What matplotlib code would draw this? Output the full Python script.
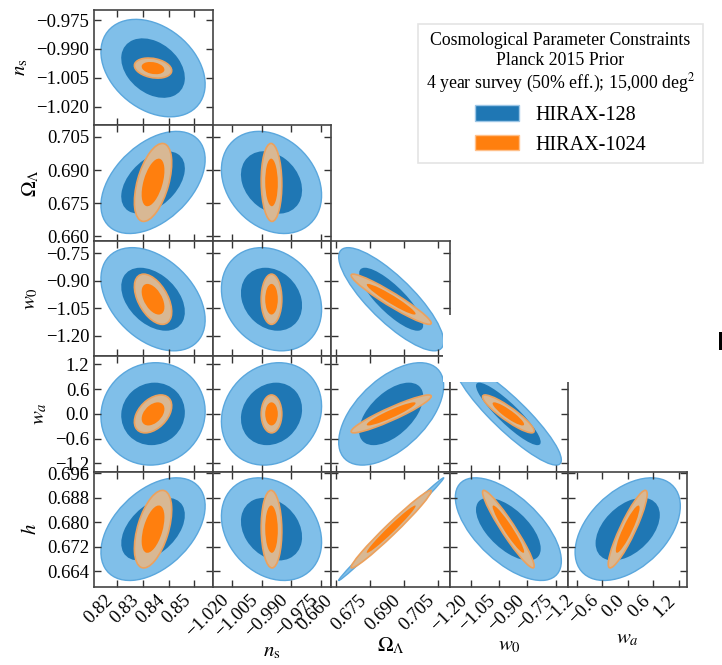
import numpy as np
import matplotlib
matplotlib.use('Agg')
import matplotlib.pyplot as plt
from matplotlib.patches import Ellipse, Patch, Rectangle
from matplotlib.ticker import FuncFormatter

plt.rcParams['font.family'] = 'serif'
plt.rcParams['font.serif'] = ['Liberation Serif', 'DejaVu Serif']
plt.rcParams['mathtext.fontset'] = 'stix'

# parametry: p0 (podpis ucięty na oryginale), n_s, Omega_L, w0, wa, h
labels = [None, r'$n_{\rm s}$', r'$\Omega_\Lambda$', r'$w_0$', r'$w_a$', r'$h$']
fiducial = [0.834, -1.0, 0.6844, -1.0, 0.0, 0.6778]
limits = [(0.8112, 0.8570), (-1.0298, -0.9698), (0.6580, 0.7102),
          (-1.310, -0.682), (-1.40, 1.40), (0.6589, 0.6966)]
ticks = [[0.82, 0.83, 0.84, 0.85],
         [-1.020, -1.005, -0.990, -0.975],
         [0.660, 0.675, 0.690, 0.705],
         [-1.20, -1.05, -0.90, -0.75],
         [-1.2, -0.6, 0.0, 0.6, 1.2],
         [0.664, 0.672, 0.680, 0.688, 0.696]]
tick_fmt = ['%.2f', '%.3f', '%.3f', '%.2f', '%.1f', '%.3f']

# bledy 1 sigma
sig128 = [0.0081, 0.0102, 0.0093, 0.113, 0.50, 0.00675]
sig1024 = [0.0029, 0.0021, 0.0071, 0.055, 0.185, 0.0051]

# korelacje, dolny trojkat: wiersz = parametr 1..5, kolumna = parametr 0..4
rho128 = [
    [-0.33],
    [0.45, -0.25],
    [-0.40, -0.20, -0.82],
    [0.05, 0.15, 0.55, -0.90],
    [0.45, -0.25, 0.9967, -0.62, 0.45],
]
rho1024 = [
    [-0.25],
    [0.50, -0.05],
    [-0.50, 0.0, -0.95],
    [0.42, 0.0, 0.93, -0.90],
    [0.50, -0.05, 0.98, -0.95, 0.90],
]

DCHI2 = [6.17, 2.30]  # 2 sigma, 1 sigma


def add_ellipse(ax, cx, cy, sx, sy, rho, k, **kw):
    cov = np.array([[sx * sx, rho * sx * sy], [rho * sx * sy, sy * sy]])
    vals, vecs = np.linalg.eigh(cov)
    vals = np.clip(vals, 0, None)
    ang = np.degrees(np.arctan2(vecs[1, 1], vecs[0, 1]))
    e = Ellipse((cx, cy), 2 * np.sqrt(k * vals[1]), 2 * np.sqrt(k * vals[0]),
                angle=ang, **kw)
    ax.add_patch(e)


def make_fmt(f):
    return FuncFormatter(lambda v, pos: (f % v).replace('-', '\u2212'))


fig = plt.figure(figsize=(7.22, 6.65), dpi=100)
W, H = 722.0, 665.0
x0, y0 = 94.0, 10.0
pw, ph = 118.6, 115.4

n = 5
for i in range(n):
    py = i + 1
    for j in range(i + 1):
        px = j
        ax = fig.add_axes([(x0 + j * pw) / W, 1 - (y0 + (i + 1) * ph) / H, pw / W, ph / H])
        cx, cy = fiducial[px], fiducial[py]

        # HIRAX-128
        add_ellipse(ax, cx, cy, sig128[px], sig128[py], rho128[i][j], DCHI2[0],
                    facecolor='#80bfe9', edgecolor='#5aa7dd', lw=1.0)
        add_ellipse(ax, cx, cy, sig128[px], sig128[py], rho128[i][j], DCHI2[1],
                    facecolor='#1f77b4', edgecolor='none')
        # HIRAX-1024
        add_ellipse(ax, cx, cy, sig1024[px], sig1024[py], rho1024[i][j], DCHI2[0],
                    facecolor='#d8b894', edgecolor='#eda15c', lw=1.2)
        add_ellipse(ax, cx, cy, sig1024[px], sig1024[py], rho1024[i][j], DCHI2[1],
                    facecolor='#ff7f0e', edgecolor='none')

        ax.set_xlim(limits[px])
        ax.set_ylim(limits[py])
        ax.set_xticks(ticks[px])
        ax.set_yticks(ticks[py])
        ax.xaxis.set_major_formatter(make_fmt(tick_fmt[px]))
        ax.yaxis.set_major_formatter(make_fmt(tick_fmt[py]))
        ax.tick_params(direction='in', top=True, right=True, length=5, width=1,
                       labelsize=13.5, color='#333333')
        for s in ax.spines.values():
            s.set_linewidth(1.2)
            s.set_color('#444444')

        if j == 0:
            ax.set_ylabel(labels[py], fontsize=15)
        else:
            ax.tick_params(labelleft=False)
        if i == n - 1:
            for t in ax.get_xticklabels():
                t.set_rotation(45)
                t.set_ha('right')
            if labels[px]:
                ax.set_xlabel(labels[px], fontsize=15, labelpad=1)
        else:
            ax.tick_params(labelbottom=False)

# przyciety fragment oryginalnego obrazka
fig.add_artist(Rectangle((443 / W, 1 - 382 / H), 132 / W, 67 / H,
                         transform=fig.transFigure, facecolor='white',
                         edgecolor='none', zorder=10))
fig.add_artist(Rectangle((719 / W, 1 - 350 / H), 3 / W, 18 / H,
                         transform=fig.transFigure, facecolor='black',
                         edgecolor='none', zorder=10))

handles = [Patch(facecolor='#1f77b4', edgecolor='#9cc6e6'),
           Patch(facecolor='#ff7f0e', edgecolor='#ffc08a')]
leg = fig.legend(handles, ['HIRAX-128', 'HIRAX-1024'],
                 loc='upper right', bbox_to_anchor=(703 / W, 1 - 24 / H),
                 title='Cosmological Parameter Constraints\nPlanck 2015 Prior\n'
                       '4 year survey (50% eff.); 15,000 deg$^2$',
                 fontsize=14.5, title_fontsize=12.8, fancybox=False,
                 handlelength=2.2, handleheight=0.8, borderaxespad=0)
leg.get_title().set_multialignment('center')
leg.get_frame().set_edgecolor('#dddddd')
leg.get_frame().set_linewidth(1.2)

fig.savefig('out.png', dpi=100)
